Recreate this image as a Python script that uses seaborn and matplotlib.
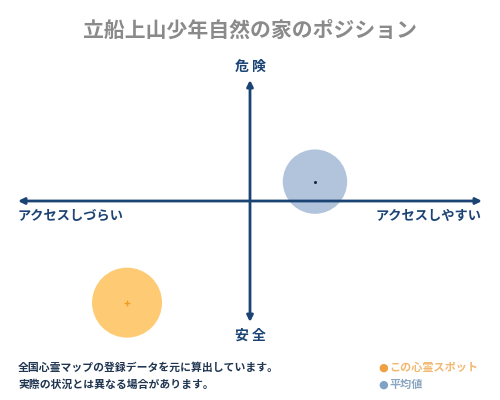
import matplotlib
matplotlib.use("Agg")
import matplotlib.pyplot as plt
import seaborn as sns
import pandas as pd

# values (x: access, y: danger, both -1..1)
names = ["この心霊スポット", "平均値"]
access = [-0.53, 0.28]
danger = [-0.84, 0.16]
sizes = [2540, 2150]
fill_colors = ["#fecb74", "#b1c4dc"]
centre_marks = ["+", "."]
centre_colors = ["#f0a020", "#1a2a40"]

title = "立船上山少年自然の家のポジション"
top_label, bottom_label = "危 険", "安 全"
left_label, right_label = "アクセスしづらい", "アクセスしやすい"
notes = ["全国心霊マップの登録データを元に算出しています。",
         "実際の状況とは異なる場合があります。"]
legend_colors = ["#f0a040", "#7fa3c4"]
legend_text_colors = ["#f2b870", "#8aa6c0"]

sns.set_theme(style="white")
plt.rcParams["font.family"] = ["Noto Sans CJK JP", "DejaVu Sans"]

navy = "#1b4474"
df = pd.DataFrame({"name": names, "access": access, "danger": danger})

fig = plt.figure(figsize=(5, 4), dpi=100)
ax = fig.add_axes([0.036, 0.195, 0.928, 0.605])
ax.set_xlim(-1, 1)
ax.set_ylim(-1, 1)
ax.axis("off")

sns.scatterplot(data=df, x="access", y="danger", hue="name", palette=fill_colors,
                size="name", sizes=dict(zip(names, sizes)), alpha=1.0,
                edgecolor="none", legend=False, ax=ax, zorder=2, clip_on=False)
for i in range(len(names)):
    ax.scatter(access[i], danger[i], marker=centre_marks[i], color=centre_colors[i],
               s=18 if centre_marks[i] == "+" else 6, linewidths=1, zorder=4,
               clip_on=False)

arrow = dict(arrowstyle="<|-|>", color=navy, lw=2, mutation_scale=9, shrinkA=0, shrinkB=0)
ax.annotate("", xy=(-1, 0), xytext=(1, 0), arrowprops=arrow, zorder=3)
ax.annotate("", xy=(0, -1), xytext=(0, 1), arrowprops=arrow, zorder=3)

fig.text(0.5, 0.925, title, ha="center", va="center", fontsize=15,
         color="#8a8a8a", fontweight="bold")
fig.text(0.5, 0.832, top_label, ha="center", va="center", fontsize=10,
         color=navy, fontweight="bold")
fig.text(0.5, 0.16, bottom_label, ha="center", va="center", fontsize=10,
         color=navy, fontweight="bold")
fig.text(0.036, 0.46, left_label, ha="left", va="center", fontsize=9.5,
         color=navy, fontweight="bold")
fig.text(0.964, 0.46, right_label, ha="right", va="center", fontsize=9.5,
         color=navy, fontweight="bold")

for i, note in enumerate(notes):
    fig.text(0.036, 0.082 - i * 0.043, note, ha="left", va="center", fontsize=7.8,
             color="#1f3550", fontweight="bold")

for i, name in enumerate(names):
    y = 0.082 - i * 0.043
    fig.text(0.766, y, "●", ha="center", va="center", fontsize=8,
             color=legend_colors[i], family=["DejaVu Sans"])
    fig.text(0.778, y, name, ha="left", va="center", fontsize=8,
             color=legend_text_colors[i], fontweight="bold")

fig.savefig("out.png", dpi=100, facecolor="white")
